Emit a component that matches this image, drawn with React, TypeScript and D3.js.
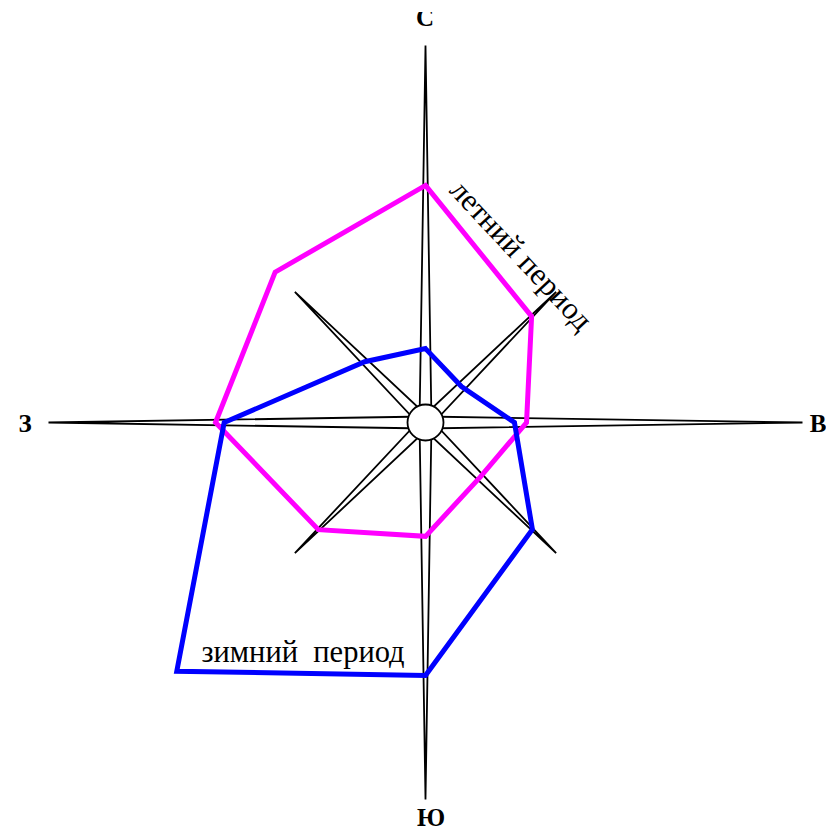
import { useEffect, useRef } from "react";
import * as d3 from "d3";

// directions clockwise from north
const directions = ["С", "СВ", "В", "ЮВ", "Ю", "ЮЗ", "З", "СЗ"];
const summerValues = [62.9, 39.8, 26.8, 20.5, 30.2, 40.2, 55.7, 56.4];
const winterValues = [19.6, 13.5, 23.6, 40.1, 67.1, 93.3, 53.4, 22.8];
const cardinalLabels = ["С", "В", "Ю", "З"];
const armLengths = [100, 49, 100, 49, 100, 49, 100, 49];

const W = 826;
const H = 834;
const cx = 425.5;
const cy = 422.5;

function WindRose() {
  const svgRef = useRef<SVGSVGElement | null>(null);

  useEffect(() => {
    const svgEl = svgRef.current;
    if (!svgEl) return;
    const svg = d3.select(svgEl);
    svg.selectAll("*").remove();

    const r = d3.scaleLinear().domain([0, 100]).range([0, 377]);
    const angle = d3
      .scalePoint<string>()
      .domain(directions)
      .range([0, (2 * Math.PI * 7) / 8]);

    // top letter is cut off in the original
    svg
      .append("clipPath")
      .attr("id", "page-clip")
      .append("rect")
      .attr("x", 0)
      .attr("y", 12)
      .attr("width", W)
      .attr("height", H - 12);

    const g = svg.append("g").attr("transform", `translate(${cx},${cy})`);

    // compass needles
    const halfW = 6;
    const arms = g.append("g");
    directions.forEach((d, i) => {
      const a = angle(d)!;
      const ux = Math.sin(a);
      const uy = -Math.cos(a);
      const len = r(armLengths[i]);
      const pts: [number, number][] = [
        [ux * len, uy * len],
        [-uy * halfW, ux * halfW],
        [uy * halfW, -ux * halfW],
      ];
      arms
        .append("path")
        .attr("d", d3.line()(pts) + "Z")
        .attr("fill", "none")
        .attr("stroke", "#000")
        .attr("stroke-width", 1.8)
        .attr("stroke-linejoin", "miter");
    });

    g.append("circle")
      .attr("r", 18)
      .attr("fill", "#fff")
      .attr("stroke", "#000")
      .attr("stroke-width", 1.8);

    const radial = d3
      .lineRadial<number>()
      .angle((_, i) => angle(directions[i])!)
      .radius((v) => r(v))
      .curve(d3.curveLinearClosed);

    g.append("path")
      .attr("d", radial(summerValues))
      .attr("fill", "none")
      .attr("stroke", "#ff00ff")
      .attr("stroke-width", 5)
      .attr("stroke-linejoin", "miter");

    g.append("path")
      .attr("d", radial(winterValues))
      .attr("fill", "none")
      .attr("stroke", "#0000ff")
      .attr("stroke-width", 5)
      .attr("stroke-linejoin", "miter");

    // series labels
    svg
      .append("text")
      .attr("transform", "translate(514,262) rotate(47)")
      .attr("text-anchor", "middle")
      .attr("font-family", "'Liberation Serif', serif")
      .attr("font-size", 31)
      .text("летний период");

    svg
      .append("text")
      .attr("x", 303)
      .attr("y", 662)
      .attr("text-anchor", "middle")
      .attr("font-family", "'Liberation Serif', serif")
      .attr("font-size", 30.5)
      .attr("xml:space", "preserve")
      .text("зимний  период");

    // cardinal letters
    const labelPos: Record<string, [number, number]> = {
      С: [425, 26],
      В: [818, 432],
      Ю: [431, 826],
      З: [25, 432],
    };
    const letters = svg.append("g").attr("clip-path", "url(#page-clip)");
    cardinalLabels.forEach((l) => {
      const [x, y] = labelPos[l];
      letters
        .append("text")
        .attr("x", x)
        .attr("y", y)
        .attr("text-anchor", "middle")
        .attr("font-family", "'Liberation Serif', serif")
        .attr("font-weight", "bold")
        .attr("font-size", 25)
        .text(l);
    });
  }, []);

  return (
    <svg
      ref={svgRef}
      width={W}
      height={H}
      style={{ position: "absolute", left: 0, top: 0, background: "#fff" }}
    />
  );
}

export default function App() {
  return <WindRose />;
}
